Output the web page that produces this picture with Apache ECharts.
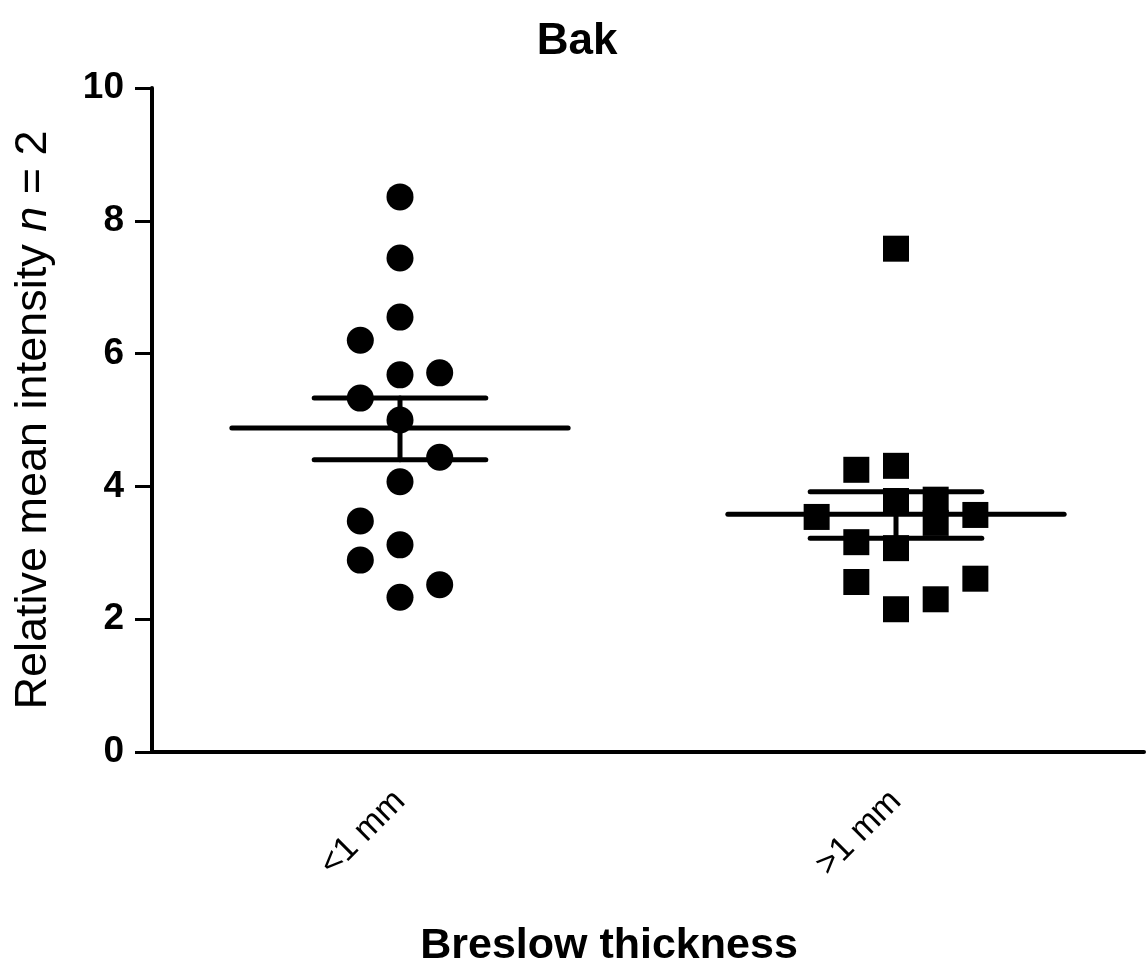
<!DOCTYPE html>
<html>
<head>
<meta charset="utf-8">
<script src="https://cdn.jsdelivr.net/npm/echarts@6/dist/echarts.min.js"></script>
<style>html,body{margin:0;padding:0;background:#fff;}#c{width:1148px;height:971px;}</style>
</head>
<body>
<div id="c"></div>
<script>
// ---- data ----
const categories = ['<1 mm', '>1 mm'];
const yTicks = [0, 2, 4, 6, 8, 10];
// group 1 (<1 mm): values and jitter column (-1 left, 0 centre, 1 right)
const thinValues = [8.36, 7.44, 6.55, 6.20, 5.68, 5.71, 5.33, 5.00, 4.44, 4.07, 3.48, 3.12, 2.89, 2.52, 2.33];
const thinColumns = [0, 0, 0, -1, 0, 1, -1, 0, 1, 0, -1, 0, -1, 1, 0];
// group 2 (>1 mm)
const thickValues = [7.58, 4.25, 4.31, 3.78, 3.80, 3.45, 3.54, 3.57, 3.16, 3.07, 2.56, 2.61, 2.15, 2.30];
const thickColumns = [0, -1, 0, 0, 1, 1, -2, 2, -1, 0, -1, 2, 0, 1];
// mean and SEM bounds per group
const means = [4.88, 3.58];
const semUpper = [5.33, 3.92];
const semLower = [4.40, 3.22];

// ---- layout / style ----
const JITTER = 0.08;     // x-units per jitter column
const MEAN_HALF = 0.339; // half width of mean line
const CAP_HALF = 0.173;  // half width of SEM caps
const FONT = 'Liberation Sans, Arial, sans-serif';

function pts(values, cols, gi) {
  return values.map((v, i) => [gi + 0.5 + cols[i] * JITTER, v]);
}

const chart = echarts.init(document.getElementById('c'), null, {renderer: 'canvas'});
chart.setOption({
  backgroundColor: '#ffffff',
  animation: false,
  title: [
    {text: 'Bak', left: 572, top: 15, textAlign: 'center',
     textStyle: {fontFamily: FONT, fontWeight: 'bold', fontSize: 44, color: '#000'}},
    {text: 'Breslow thickness', left: 604, top: 920, textAlign: 'center',
     textStyle: {fontFamily: FONT, fontWeight: 'bold', fontSize: 43, color: '#000'}}
  ],
  grid: {left: 152, right: 4, top: 88, bottom: 219, containLabel: false},
  xAxis: [
    {type: 'category', data: categories, boundaryGap: true,
     axisLine: {lineStyle: {color: '#000', width: 4}},
     axisTick: {alignWithLabel: true, length: 17, lineStyle: {color: '#000', width: 3}},
     axisLabel: {rotate: 45, margin: 44, color: '#000', fontFamily: FONT, fontSize: 34},
     splitLine: {show: false}},
    {type: 'value', min: 0, max: 2, show: false}
  ],
  yAxis: {
    type: 'value', min: 0, max: 10, interval: 2,
    name: 'Relative mean intensity {i|n} = 2',
    nameLocation: 'middle', nameGap: 96, nameRotate: 90,
    nameTextStyle: {fontFamily: FONT, fontSize: 45, color: '#000', padding: [0, 0, 0, 0],
      rich: {i: {fontStyle: 'italic', fontFamily: FONT, fontSize: 45, color: '#000'}}},
    axisLine: {show: true, lineStyle: {color: '#000', width: 4}},
    axisTick: {show: true, length: 17, lineStyle: {color: '#000', width: 3}},
    axisLabel: {margin: 28, color: '#000', fontFamily: FONT, fontWeight: 'bold', fontSize: 37,
      formatter: v => yTicks.includes(v) ? String(v) : ''},
    splitLine: {show: false}
  },
  series: [
    {type: 'scatter', xAxisIndex: 1, symbol: 'circle', symbolSize: 27,
     itemStyle: {color: '#000', opacity: 1}, data: pts(thinValues, thinColumns, 0), z: 3},
    {type: 'scatter', xAxisIndex: 1, symbol: 'rect', symbolSize: 26,
     itemStyle: {color: '#000', opacity: 1}, data: pts(thickValues, thickColumns, 1), z: 3},
    {type: 'custom', xAxisIndex: 1, z: 4,
     data: means.map((m, i) => [i + 0.5, m, semLower[i], semUpper[i]]),
     renderItem: function (params, api) {
       const cx = api.value(0);
       const m = api.value(1), lo = api.value(2), hi = api.value(3);
       const a = api.coord([cx - MEAN_HALF, m]), b = api.coord([cx + MEAN_HALF, m]);
       const c1 = api.coord([cx - CAP_HALF, hi]), c2 = api.coord([cx + CAP_HALF, hi]);
       const d1 = api.coord([cx - CAP_HALF, lo]), d2 = api.coord([cx + CAP_HALF, lo]);
       const v1 = api.coord([cx, hi]), v2 = api.coord([cx, lo]);
       const st = {stroke: '#000', lineWidth: 5, lineCap: 'round'};
       return {type: 'group', children: [
         {type: 'line', shape: {x1: a[0], y1: a[1], x2: b[0], y2: b[1]}, style: st},
         {type: 'line', shape: {x1: c1[0], y1: c1[1], x2: c2[0], y2: c2[1]}, style: st},
         {type: 'line', shape: {x1: d1[0], y1: d1[1], x2: d2[0], y2: d2[1]}, style: st},
         {type: 'line', shape: {x1: v1[0], y1: v1[1], x2: v2[0], y2: v2[1]}, style: st}
       ]};
     }}
  ]
});
</script>
</body>
</html>
